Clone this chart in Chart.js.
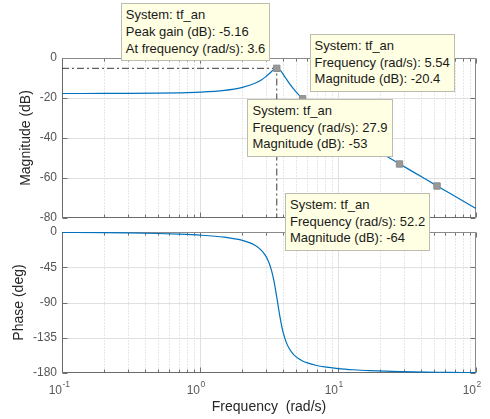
<!DOCTYPE html>
<html>
<head>
<meta charset="utf-8">
<title>Bode Diagram – tf_an</title>
<script src="https://cdn.jsdelivr.net/npm/chart.js@4.4.1/dist/chart.umd.min.js"></script>
<style>
  html, body { margin: 0; padding: 0; background: #ffffff; }
  #bode { position: relative; width: 490px; height: 419px; overflow: hidden;
          font-family: "Liberation Sans", Arial, Helvetica, sans-serif; }
  #bode canvas { position: absolute; left: 0; top: 0; }
  .tip { position: absolute; background: #ffffe3; border: 1px solid #bcbcb0;
         font-size: 13px; line-height: 16.7px; color: #1a1a1a; padding: 3px 4px;
         white-space: nowrap; }
</style>
</head>
<body>
<div id="bode">
  <canvas id="magChart" width="490" height="419"></canvas>
  <canvas id="phaseChart" width="490" height="419"></canvas>
</div>
<script>
// Frequency response of tf_an
const systemName = 'tf_an';
const freq = [0.1, 0.2, 0.3, 0.5, 0.7, 1, 1.5, 2, 2.5, 2.8,
              3.0, 3.1, 3.2, 3.3, 3.4, 3.45, 3.5, 3.55, 3.6, 3.65,
              3.7, 3.75, 3.8, 3.9, 4.0, 4.2, 4.4, 4.7, 5.0, 5.54,
              6, 7, 8, 10, 13, 17, 22, 27.9, 35, 43,
              52.2, 65, 80, 100];
const magDb = [-17.75, -17.73, -17.70, -17.60, -17.44, -17.10, -16.21, -14.81, -12.65, -10.82,
               -9.32, -8.48, -7.61, -6.74, -5.95, -5.63, -5.38, -5.21, -5.16, -5.22,
               -5.39, -5.67, -6.04, -6.97, -8.05, -10.27, -12.32, -14.96, -17.16, -20.37,
               -22.59, -26.43, -29.44, -34.06, -39.13, -44.08, -48.73, -52.94, -56.93, -60.54,
               -63.93, -67.75, -71.37, -75.25];
const phaseDeg = [-0.37, -0.74, -1.12, -1.89, -2.69, -4.00, -6.65, -10.47, -16.92, -23.72,
                  -30.84, -35.68, -41.74, -49.37, -58.86, -64.35, -70.30, -76.63, -83.20, -89.87,
                  -96.45, -102.78, -108.73, -119.23, -127.76, -139.98, -147.84, -155.19, -159.74, -164.63,
                  -167.15, -170.40, -172.25, -174.32, -175.88, -176.96, -177.69, -178.20, -178.57, -178.84,
                  -179.05, -179.24, -179.38, -179.51];

// data tips: peak first, then the picked points
const tipFreq = [3.6, 5.54, 27.9, 52.2];
const tipMag = [-5.16, -20.4, -53, -64];
const tipCorner = ['nw', 'ne', 'nw', 'sw'];

// axis ticks
const magTicks = [0, -20, -40, -60, -80];
const phaseTicks = [0, -45, -90, -135, -180];
const decadeTicks = [0.1, 1, 10, 100];
const decadeExp = ['-1', '0', '1', '2'];

const FONT = '"Liberation Sans", Arial, Helvetica, sans-serif';
const BLUE = '#0072BD';
Chart.defaults.font.family = FONT;

const xMin = decadeTicks[0], xMax = decadeTicks[decadeTicks.length - 1];
const minorX = decadeTicks.slice(0, -1).flatMap(d => [2, 3, 4, 5, 6, 7, 8, 9].map(k => d * k));

function seg(ctx, x1, y1, x2, y2) {
  ctx.beginPath(); ctx.moveTo(x1, y1); ctx.lineTo(x2, y2); ctx.stroke();
}

// grid, box and inward ticks behind the curves
const bodeFrame = {
  id: 'bodeFrame',
  beforeDatasetsDraw(chart) {
    const { ctx, chartArea: a, scales: { x, y } } = chart;
    const L = Math.round(a.left) + 0.5, R = Math.round(a.right) - 0.5;
    const T = Math.round(a.top) + 0.5, B = Math.round(a.bottom) - 0.5;
    const yVals = y.ticks.map(t => t.value);
    ctx.save();
    ctx.lineWidth = 1;
    // minor log grid (dotted)
    ctx.strokeStyle = '#cfcfcf';
    ctx.setLineDash([1, 2]);
    minorX.forEach(v => {
      const p = Math.round(x.getPixelForValue(v)) + 0.5;
      seg(ctx, p, T, p, B);
    });
    ctx.setLineDash([]);
    // major grid
    ctx.strokeStyle = '#e0e0e0';
    decadeTicks.slice(1, -1).forEach(v => {
      const p = Math.round(x.getPixelForValue(v)) + 0.5;
      seg(ctx, p, T, p, B);
    });
    yVals.forEach(v => {
      if (v === y.min || v === y.max) return;
      const p = Math.round(y.getPixelForValue(v)) + 0.5;
      seg(ctx, L, p, R, p);
    });
    // inward ticks
    ctx.strokeStyle = '#707070';
    minorX.forEach(v => {
      const p = Math.round(x.getPixelForValue(v)) + 0.5;
      seg(ctx, p, B, p, B - 3); seg(ctx, p, T, p, T + 3);
    });
    decadeTicks.forEach(v => {
      const p = Math.round(x.getPixelForValue(v)) + 0.5;
      seg(ctx, p, B, p, B - 5); seg(ctx, p, T, p, T + 5);
    });
    yVals.forEach(v => {
      const p = Math.round(y.getPixelForValue(v)) + 0.5;
      seg(ctx, L, p, L + 5, p); seg(ctx, R, p, R - 5, p);
    });
    // box
    ctx.strokeStyle = '#8a8a8a';
    seg(ctx, L, T, R, T); seg(ctx, R, T, R, B);
    ctx.strokeStyle = '#6a6a6a';
    seg(ctx, L, T, L, B); seg(ctx, L, B, R, B);
    ctx.restore();
  }
};

// decade labels 10^n under the phase axes
const decadeLabels = {
  id: 'decadeLabels',
  afterDraw(chart) {
    const { ctx, chartArea: a, scales: { x } } = chart;
    ctx.save();
    ctx.fillStyle = '#5a5a5a';
    ctx.textBaseline = 'alphabetic';
    decadeTicks.forEach((v, i) => {
      const p = x.getPixelForValue(v);
      ctx.font = '12px ' + FONT;
      ctx.textAlign = 'right';
      ctx.fillText('10', p, a.bottom + 21);
      ctx.font = '8.5px ' + FONT;
      ctx.textAlign = 'left';
      ctx.fillText(decadeExp[i], p + 0.5, a.bottom + 13.5);
    });
    ctx.restore();
  }
};

function yAxis(min, max, ticks, title, titlePad) {
  return {
    type: 'linear', min, max,
    afterBuildTicks: s => { s.ticks = ticks.map(v => ({ value: v })); },
    afterFit: s => { s.width = 62; },
    grid: { display: false, drawTicks: false },
    border: { display: false },
    ticks: { color: '#555555', font: { size: 12 }, padding: 5 },
    title: { display: true, text: title, color: '#262626', font: { size: 14 },
             padding: { top: titlePad, bottom: 0 } }
  };
}

const common = {
  responsive: false, animation: false, events: [],
  plugins: { legend: { display: false }, tooltip: { enabled: false } }
};

const peak = { f: tipFreq[0], m: tipMag[0] };

const magChart = new Chart(document.getElementById('magChart'), {
  type: 'line',
  data: {
    datasets: [
      {
        data: [{ x: xMin, y: peak.m }, { x: peak.f, y: peak.m }, { x: peak.f, y: magTicks[magTicks.length - 1] }],
        borderColor: '#3a3a3a', borderWidth: 1, borderDash: [7, 3, 2, 3],
        pointRadius: 0, tension: 0, order: 3
      },
      {
        data: freq.map((f, i) => ({ x: f, y: magDb[i] })),
        borderColor: BLUE, borderWidth: 1.2, pointRadius: 0,
        cubicInterpolationMode: 'monotone', order: 2
      },
      {
        data: tipFreq.map((f, i) => ({ x: f, y: tipMag[i] })),
        showLine: false, pointStyle: 'rect', pointRadius: 4.5,
        backgroundColor: '#999999', borderColor: '#8c8c8c', borderWidth: 1, order: 1
      }
    ]
  },
  options: Object.assign({}, common, {
    layout: { padding: { top: 58, right: 14, bottom: 201, left: 0 } },
    scales: {
      x: { type: 'logarithmic', min: xMin, max: xMax, display: false },
      y: yAxis(-80, 0, magTicks, 'Magnitude (dB)', 17.6)
    }
  }),
  plugins: [bodeFrame]
});

const phaseChart = new Chart(document.getElementById('phaseChart'), {
  type: 'line',
  data: {
    datasets: [{
      data: freq.map((f, i) => ({ x: f, y: phaseDeg[i] })),
      borderColor: BLUE, borderWidth: 1.2, pointRadius: 0,
      cubicInterpolationMode: 'monotone'
    }]
  },
  options: Object.assign({}, common, {
    layout: { padding: { top: 232, right: 14, bottom: 0, left: 0 } },
    scales: {
      x: {
        type: 'logarithmic', min: xMin, max: xMax,
        afterFit: s => { s.height = 46; },
        grid: { display: false, drawTicks: false },
        border: { display: false },
        ticks: { display: false },
        title: { display: true, text: 'Frequency  (rad/s)', color: '#262626',
                 font: { size: 14 }, padding: { top: 26, bottom: 3 } }
      },
      y: yAxis(-180, 0, phaseTicks, 'Phase (deg)', 11)
    }
  }),
  plugins: [bodeFrame, decadeLabels]
});

// data tip boxes, anchored 7px off their marker
const wrap = document.getElementById('bode');
const xs = magChart.scales.x, ys = magChart.scales.y;
tipFreq.forEach((f, i) => {
  const lines = i === 0
    ? ['System: ' + systemName, 'Peak gain (dB): ' + tipMag[i], 'At frequency (rad/s): ' + f]
    : ['System: ' + systemName, 'Frequency (rad/s): ' + f, 'Magnitude (dB): ' + tipMag[i]];
  const box = document.createElement('div');
  box.className = 'tip';
  lines.forEach(t => { const d = document.createElement('div'); d.textContent = t; box.appendChild(d); });
  wrap.appendChild(box);
  const px = xs.getPixelForValue(f), py = ys.getPixelForValue(tipMag[i]);
  const w = box.offsetWidth, h = box.offsetHeight, gap = 7;
  const c = tipCorner[i];
  box.style.left = (c[1] === 'w' ? px - gap - w : px + gap) + 'px';
  box.style.top = (c[0] === 'n' ? py - gap - h : py + gap) + 'px';
});
</script>
</body>
</html>
